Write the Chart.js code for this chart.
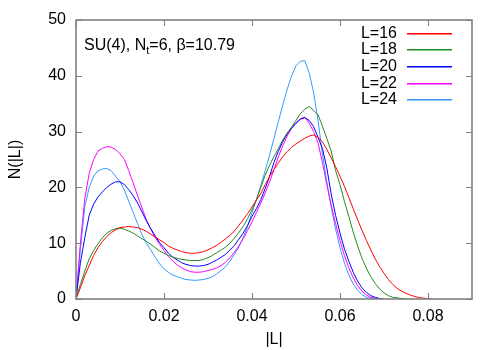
<!DOCTYPE html>
<html><head><meta charset="utf-8">
<script src="https://cdn.jsdelivr.net/npm/chart.js@4"></script>
<style>html,body{margin:0;padding:0;background:#fff}</style>
</head><body>
<canvas id="c" width="500" height="350" style="width:500px;height:350px;display:block"></canvas>
<script>
// |L| bin centres
const binCenters = [
 0.000,0.001,0.002,0.003,0.004,0.005,0.006,0.007,0.008,0.009,
 0.010,0.011,0.012,0.013,0.014,0.015,0.016,0.017,0.018,0.019,
 0.020,0.021,0.022,0.023,0.024,0.025,0.026,0.027,0.028,0.029,
 0.030,0.031,0.032,0.033,0.034,0.035,0.036,0.037,0.038,0.039,
 0.040,0.041,0.042,0.043,0.044,0.045,0.046,0.047,0.048,0.049,
 0.050,0.051,0.052,0.053,0.054,0.055,0.056,0.057,0.058,0.059,
 0.060,0.061,0.062,0.063,0.064,0.065,0.066,0.067,0.068,0.069,
 0.070,0.071,0.072,0.073,0.074,0.075,0.076,0.077,0.078,0.079,
 0.080,0.081
];
const L16 = [
 0,2,4.2,6,7.8,9.2,10.3,11.2,11.9,12.4,
 12.8,12.9,13,12.9,12.8,12.5,12.1,11.6,11.1,10.6,
 10.1,9.5,9.1,8.8,8.5,8.3,8.2,8.2,8.3,8.5,
 8.8,9.2,9.6,10.2,10.8,11.4,12.2,13.2,14.2,15.3,
 16.5,17.7,18.9,20.5,22,23.2,24.4,25.5,26.4,27.2,
 27.8,28.3,28.8,29.2,29.4,29,28.2,26.8,25.3,23.7,
 22,20.2,18.2,16.2,14.2,12.3,10.5,8.8,7.2,5.8,
 4.6,3.5,2.6,1.9,1.4,1,0.7,0.45,0.25,0.15,
 0.05,0
];
const L18 = [
 0,2.6,5,7.2,8.7,9.9,11,11.8,12.3,12.6,
 12.7,12.5,12.2,11.8,11.3,10.8,10.3,9.8,9.2,8.6,
 8.2,7.8,7.5,7.3,7.1,7,6.9,6.9,6.9,7.1,
 7.4,7.8,8.3,8.8,9.3,10,10.9,11.9,13,14.4,
 16,17.8,20,22.2,24,25.5,27,28.5,29.8,30.8,
 32,33.2,34,34.5,33.8,33,31,28.8,26.5,23,
 20.5,17.5,14.8,12,9.5,7.3,5.5,4,2.8,1.8,
 1.1,0.6,0.3,0.2,0.1,0
];
const L20 = [
 0,6.5,11,15,17,18.3,19.2,20,20.6,21,
 21,20.5,19.6,18.5,17.2,15.6,14,12.6,11.3,10.1,
 9.2,8.2,7.5,7,6.5,6.2,6,5.9,5.9,6,
 6.2,6.6,7,7.5,8,8.8,9.6,10.7,11.8,13.2,
 14.8,16.2,17.8,19.8,22,24.5,26.5,28.2,29.6,30.6,
 31.5,32.2,32.5,32,30.9,29,27,23.5,18.8,15,
 11.8,9,6.8,4.8,3.2,2,1.2,0.6,0.3,0.1,
 0
];
const L22 = [
 0,10,18,22.5,25,26.5,27,27.3,27.2,26.8,
 26,25,23,20.8,18.5,16.3,14.2,12.5,11,9.8,
 8.7,7.6,6.8,6.1,5.6,5.2,4.9,4.8,4.8,4.9,
 5.1,5.3,5.6,6,6.6,7.4,8.4,9.5,10.8,12.3,
 13.8,15.5,17.2,19,21,23.2,25.5,27.5,29.2,30.6,
 31.6,32.3,32.6,31.5,30,28,24.5,20.5,16.8,13.5,
 10.5,7.8,5.6,3.8,2.4,1.4,0.7,0.3,0.1,0
];
const L24 = [
 0,9,16.5,20,22,23,23.3,23.4,23,22,
 21,19.5,17.5,15.5,13.5,11.5,10,8.8,7.5,6.3,
 5.4,4.8,4.3,4,3.7,3.5,3.4,3.35,3.4,3.5,
 3.7,4,4.5,5.1,5.8,6.8,8,9.3,11,13,
 15.5,17.8,20.3,23,25.8,28.8,31.8,34.8,37.6,40,
 41.8,42.6,42.7,40.5,37,32,26,21,16.5,12.5,
 9.2,6.5,4.3,2.7,1.6,0.8,0.3,0.1,0
];
const seriesNames = ['L=16','L=18','L=20','L=22','L=24'];
const seriesValues = [L16, L18, L20, L22, L24];
const seriesColors = ['#ff0000','#228b22','#0000ff','#ff00ff','#3399ff'];
const xTickValues = [0, 0.02, 0.04, 0.06, 0.08];
const yTickValues = [0, 10, 20, 30, 40, 50];
const xTitle = '|L|';
const yTitle = 'N(|L|)';
const noteParts = ['SU(4), N', 't', '=6, β=10.79'];

const FONT = '"Liberation Sans", Arial, Helvetica, sans-serif';

const datasets = seriesValues.map((vals, i) => ({
  label: seriesNames[i],
  data: vals.map((v, j) => ({x: binCenters[j], y: v})),
  borderColor: seriesColors[i],
  borderWidth: 1,
  pointRadius: 0,
  tension: 0,
  fill: false
}));

const framePlugin = {
  id: 'frame',
  afterDatasetsDraw(chart) {
    const ctx = chart.ctx, a = chart.chartArea;
    const xs = chart.scales.x, ys = chart.scales.y;
    ctx.save();
    ctx.strokeStyle = '#808080';
    ctx.lineWidth = 1;
    ctx.beginPath();
    xTickValues.forEach(v => {
      const px = Math.round(xs.getPixelForValue(v)) + 0.5;
      ctx.moveTo(px, a.bottom); ctx.lineTo(px, a.bottom - 6);
      ctx.moveTo(px, a.top); ctx.lineTo(px, a.top + 6);
    });
    yTickValues.forEach(v => {
      const py = Math.round(ys.getPixelForValue(v)) + 0.5;
      ctx.moveTo(a.left, py); ctx.lineTo(a.left + 6, py);
      ctx.moveTo(a.right, py); ctx.lineTo(a.right - 6, py);
    });
    ctx.stroke();
    ctx.lineWidth = 1.6;
    ctx.strokeRect(a.left, a.top, a.right - a.left, a.bottom - a.top);

    // legend
    ctx.font = '16px ' + FONT;
    ctx.textAlign = 'right';
    ctx.textBaseline = 'middle';
    for (let i = 0; i < seriesNames.length; i++) {
      const y = 32.7 + i * 16.65;
      ctx.fillStyle = '#000';
      ctx.fillText(seriesNames[i], 397, y + 0.5);
      ctx.fillStyle = seriesColors[i];
      ctx.fillRect(407, Math.round(y), 45, 1.5);
    }

    // annotation
    ctx.textAlign = 'left';
    ctx.textBaseline = 'alphabetic';
    ctx.fillStyle = '#000';
    let x = 84;
    const base = 50;
    ctx.font = '16px ' + FONT;
    ctx.fillText(noteParts[0], x, base);
    x += ctx.measureText(noteParts[0]).width;
    ctx.font = '11px ' + FONT;
    ctx.fillText(noteParts[1], x, base + 4);
    x += ctx.measureText(noteParts[1]).width;
    ctx.font = '16px ' + FONT;
    ctx.fillText(noteParts[2], x, base);
    ctx.restore();
  }
};

new Chart(document.getElementById('c'), {
  type: 'line',
  data: { datasets },
  options: {
    responsive: false,
    devicePixelRatio: 1,
    animation: false,
    layout: { padding: { top: 20, right: 28, left: 0, bottom: 0 } },
    plugins: { legend: { display: false }, tooltip: { enabled: false } },
    scales: {
      x: {
        type: 'linear', min: 0, max: 0.09,
        afterBuildTicks: s => { s.ticks = xTickValues.map(v => ({value: v})); },
        afterFit: s => { s.height = 51; },
        grid: { display: false, drawTicks: false },
        border: { display: false },
        ticks: {
          font: { family: FONT, size: 16 }, color: '#000', padding: 8,
          maxRotation: 0, autoSkip: false,
          callback: v => v === 0 ? '0' : v.toFixed(2)
        },
        title: { display: true, text: xTitle, color: '#000', font: { family: FONT, size: 16 }, padding: { top: 0, bottom: 1 } }
      },
      y: {
        type: 'linear', min: 0, max: 50,
        afterBuildTicks: s => { s.ticks = yTickValues.map(v => ({value: v})); },
        afterFit: s => { s.width = 76; },
        grid: { display: false, drawTicks: false },
        border: { display: false },
        ticks: { font: { family: FONT, size: 16 }, color: '#000', padding: 10, autoSkip: false },
        title: { display: true, text: yTitle, color: '#000', font: { family: FONT, size: 16 }, padding: { top: 6, bottom: 0 } }
      }
    }
  },
  plugins: [framePlugin]
});
</script>
</body></html>
